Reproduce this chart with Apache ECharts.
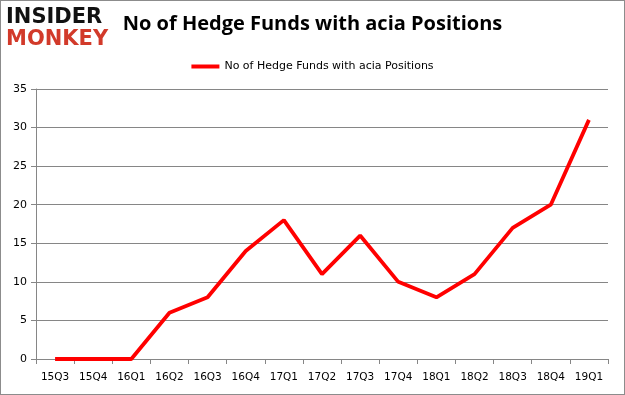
<!DOCTYPE html>
<html><head><meta charset="utf-8">
<script src="https://cdn.jsdelivr.net/npm/echarts@6/dist/echarts.min.js"></script>
<style>html,body{margin:0;padding:0;background:#fff;}#c{width:625px;height:395px;box-sizing:border-box;border:1px solid #8c8c8c;}</style>
</head><body><div id="c"></div>
<script>
const categories = ['15Q3','15Q4','16Q1','16Q2','16Q3','16Q4','17Q1','17Q2','17Q3','17Q4','18Q1','18Q2','18Q3','18Q4','19Q1'];
const values = [0,0,0,6,8,14,18,11,16,10,8,11,17,20,31];
const seriesName = 'No of Hedge Funds with acia Positions';
const titleText = 'No of Hedge Funds with acia Positions';

const chart = echarts.init(document.getElementById('c'), null, {renderer:'canvas'});
chart.setOption({
  animation:false,
  title:{text:titleText,left:'center',top:13,padding:0,
    textStyle:{fontFamily:'Open Sans',fontWeight:'bold',fontSize:20,color:'#000'}},
  legend:{data:[seriesName],top:55,left:'center',itemWidth:28,itemHeight:4,itemGap:4,
    icon:'rect',textStyle:{fontFamily:'DejaVu Sans',fontSize:11,color:'#000'}},
  graphic:[
    {type:'text',left:5,top:6,style:{text:'INSIDER',fontFamily:'DejaVu Sans',fontWeight:'bold',fontSize:21,fill:'#111'}},
    {type:'text',left:5,top:28,style:{text:'MONKEY',fontFamily:'DejaVu Sans',fontWeight:'bold',fontSize:21,fill:'#d23a2a'}}
  ],
  grid:{left:35,right:16,top:88,bottom:35},
  xAxis:{type:'category',data:categories,boundaryGap:true,
    axisLine:{lineStyle:{color:'#868686'}},
    axisTick:{show:true,length:5,alignWithLabel:false,lineStyle:{color:'#868686'}},
    axisLabel:{fontFamily:'DejaVu Sans',fontSize:10.5,color:'#000',margin:13,interval:0}},
  yAxis:{type:'value',min:0,max:35,interval:5,
    axisLine:{show:true,lineStyle:{color:'#868686'}},
    axisTick:{show:true,length:5,lineStyle:{color:'#868686'}},
    splitLine:{lineStyle:{color:'#868686'}},
    axisLabel:{fontFamily:'DejaVu Sans',fontSize:11,color:'#000',margin:9}},
  series:[{name:seriesName,type:'line',data:values,symbol:'none',
    lineStyle:{color:'#ff0000',width:3.8},itemStyle:{color:'#ff0000'}}]
});
</script></body></html>
